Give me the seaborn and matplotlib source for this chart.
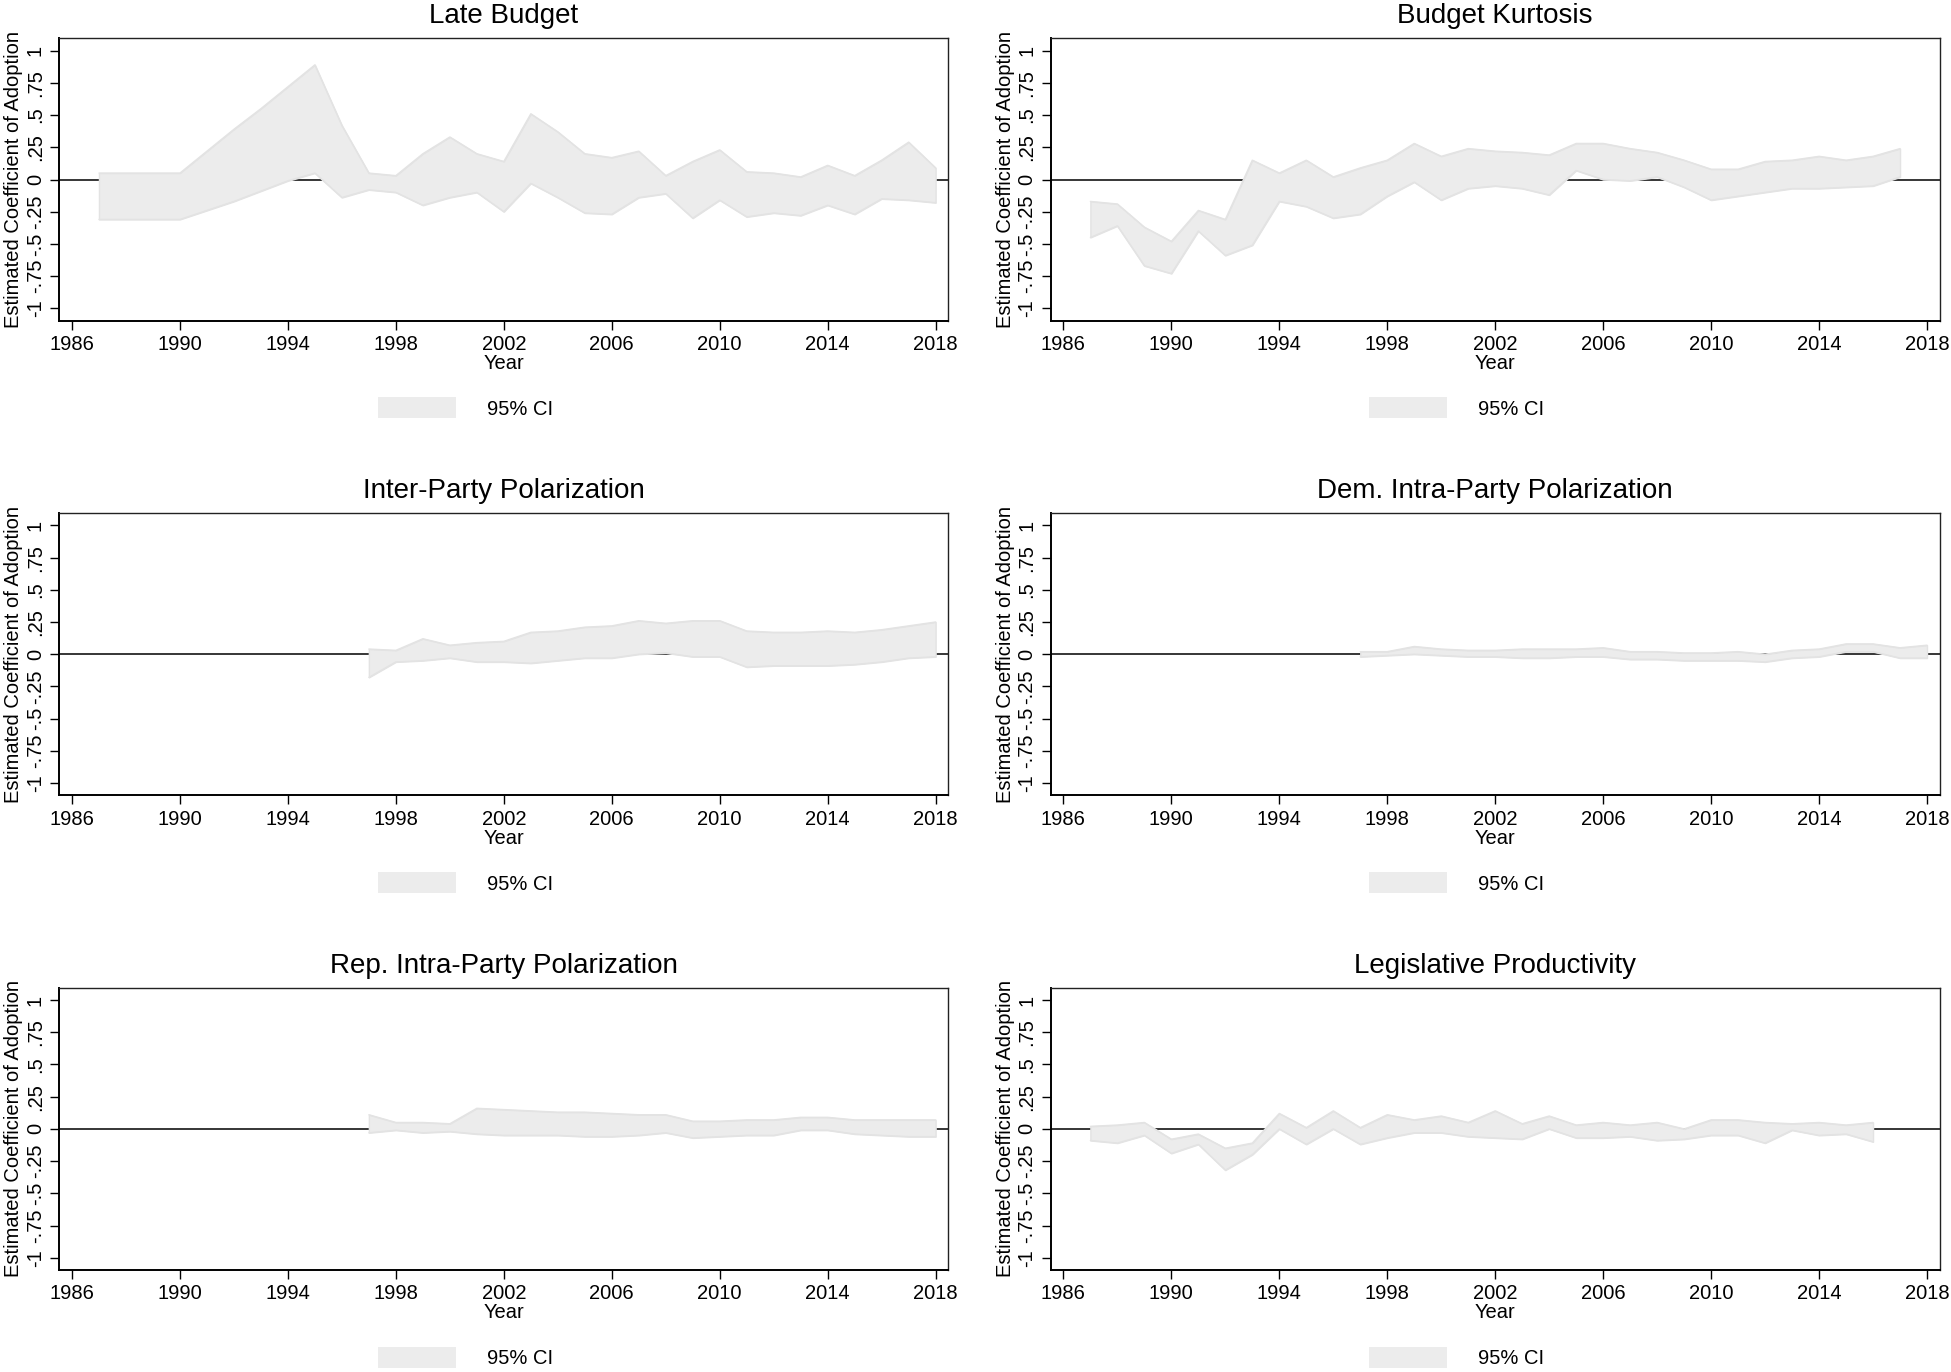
import numpy as np
import matplotlib
matplotlib.use("Agg")
import matplotlib.pyplot as plt
from matplotlib.patches import Rectangle
import seaborn as sns

# values: 95% CI bounds per year
late_years = list(range(1987, 2019))
late_upper = [0.05, 0.05, 0.05, 0.05, 0.22, 0.39, 0.55, 0.72, 0.89, 0.42, 0.05, 0.03,
              0.20, 0.33, 0.20, 0.14, 0.51, 0.37, 0.20, 0.17, 0.22, 0.03, 0.14, 0.23,
              0.06, 0.05, 0.02, 0.11, 0.03, 0.15, 0.29, 0.09]
late_lower = [-0.31, -0.31, -0.31, -0.31, -0.24, -0.17, -0.09, -0.01, 0.05, -0.14, -0.08, -0.10,
              -0.20, -0.14, -0.10, -0.25, -0.03, -0.14, -0.26, -0.27, -0.14, -0.11, -0.30, -0.16,
              -0.29, -0.26, -0.28, -0.20, -0.27, -0.15, -0.16, -0.18]

kurt_years = list(range(1987, 2018))
kurt_upper = [-0.17, -0.19, -0.37, -0.48, -0.24, -0.31, 0.15, 0.05, 0.15, 0.02, 0.09, 0.15,
              0.28, 0.18, 0.24, 0.22, 0.21, 0.19, 0.28, 0.28, 0.24, 0.21, 0.15, 0.08,
              0.08, 0.14, 0.15, 0.18, 0.15, 0.18, 0.24]
kurt_lower = [-0.45, -0.36, -0.67, -0.73, -0.40, -0.59, -0.51, -0.17, -0.21, -0.30, -0.27, -0.13,
              -0.02, -0.16, -0.07, -0.05, -0.07, -0.12, 0.07, 0.00, -0.01, 0.02, -0.06, -0.16,
              -0.13, -0.10, -0.07, -0.07, -0.06, -0.05, 0.02]

inter_years = list(range(1997, 2019))
inter_upper = [0.04, 0.03, 0.12, 0.07, 0.09, 0.10, 0.17, 0.18, 0.21, 0.22, 0.26, 0.24,
               0.26, 0.26, 0.18, 0.17, 0.17, 0.18, 0.17, 0.19, 0.22, 0.25]
inter_lower = [-0.18, -0.06, -0.05, -0.03, -0.06, -0.06, -0.07, -0.05, -0.03, -0.03, 0.00, 0.01,
               -0.02, -0.02, -0.10, -0.09, -0.09, -0.09, -0.08, -0.06, -0.03, -0.02]

dem_years = list(range(1997, 2019))
dem_upper = [0.02, 0.02, 0.06, 0.04, 0.03, 0.03, 0.04, 0.04, 0.04, 0.05, 0.02, 0.02,
             0.01, 0.01, 0.02, 0.00, 0.03, 0.04, 0.08, 0.08, 0.05, 0.07]
dem_lower = [-0.02, -0.01, 0.00, -0.01, -0.02, -0.02, -0.03, -0.03, -0.02, -0.02, -0.04, -0.04,
             -0.05, -0.05, -0.05, -0.06, -0.03, -0.02, 0.02, 0.02, -0.03, -0.03]

rep_years = list(range(1997, 2019))
rep_upper = [0.11, 0.05, 0.05, 0.04, 0.16, 0.15, 0.14, 0.13, 0.13, 0.12, 0.11, 0.11,
             0.06, 0.06, 0.07, 0.07, 0.09, 0.09, 0.07, 0.07, 0.07, 0.07]
rep_lower = [-0.03, -0.01, -0.03, -0.02, -0.04, -0.05, -0.05, -0.05, -0.06, -0.06, -0.05, -0.03,
             -0.07, -0.06, -0.05, -0.05, -0.01, -0.01, -0.04, -0.05, -0.06, -0.06]

leg_years = list(range(1987, 2017))
leg_upper = [0.02, 0.03, 0.05, -0.08, -0.04, -0.15, -0.11, 0.12, 0.01, 0.14, 0.01, 0.11,
             0.07, 0.10, 0.05, 0.14, 0.04, 0.10, 0.03, 0.05, 0.03, 0.05, 0.00, 0.07,
             0.07, 0.05, 0.04, 0.05, 0.03, 0.05]
leg_lower = [-0.09, -0.11, -0.05, -0.19, -0.12, -0.32, -0.20, 0.00, -0.12, 0.00, -0.12, -0.07,
             -0.03, -0.03, -0.06, -0.07, -0.08, 0.00, -0.07, -0.07, -0.06, -0.09, -0.08, -0.05,
             -0.05, -0.11, -0.01, -0.05, -0.04, -0.10]

titles = ["Late Budget", "Budget Kurtosis", "Inter-Party Polarization",
          "Dem. Intra-Party Polarization", "Rep. Intra-Party Polarization",
          "Legislative Productivity"]
panels = [(late_years, late_lower, late_upper), (kurt_years, kurt_lower, kurt_upper),
          (inter_years, inter_lower, inter_upper), (dem_years, dem_lower, dem_upper),
          (rep_years, rep_lower, rep_upper), (leg_years, leg_lower, leg_upper)]

xticks = list(range(1986, 2019, 4))
yticks = [-1, -0.75, -0.5, -0.25, 0, 0.25, 0.5, 0.75, 1]
ytick_labels = ["-1", "-.75", "-.5", "-.25", "0", ".25", ".5", ".75", "1"]

sns.set_theme(style="ticks", rc={"text.color": "black", "axes.labelcolor": "black",
                                 "xtick.color": "black", "ytick.color": "black"})
plt.rcParams['font.family'] = ['Liberation Sans', 'DejaVu Sans']

fill_col = "#ececec"
edge_col = "#e3e3e3"
W, H = 1951, 1372
fig = plt.figure(figsize=(W / 100, H / 100), dpi=100)

col_left = [59.3, 1050.7]
row_top = [38.3, 513.0, 987.7]
aw, ah = 889.0, 282.4

for i, (title, (yrs, lo, up)) in enumerate(zip(titles, panels)):
    r, c = divmod(i, 2)
    ax = fig.add_axes([col_left[c] / W, 1 - (row_top[r] + ah) / H, aw / W, ah / H])
    ax.axhline(0, color="black", lw=1.1, zorder=1)
    ax.fill_between(yrs, lo, up, facecolor=fill_col, edgecolor=edge_col, lw=1.0, zorder=2)
    sns.lineplot(x=yrs, y=lo, color=edge_col, lw=1.0, ax=ax, zorder=2)
    sns.lineplot(x=yrs, y=up, color=edge_col, lw=1.0, ax=ax, zorder=2)

    ax.set_xlim(1985.53, 2018.47)
    ax.set_ylim(-1.096, 1.096)
    ax.set_xticks(xticks)
    ax.set_xticklabels([str(t) for t in xticks], fontsize=14.5)
    ax.set_yticks(yticks)
    ax.set_yticklabels(ytick_labels, fontsize=14.5, rotation=90, va="center")
    ax.tick_params(axis="both", direction="out", length=6.3, width=1.0, colors="black", pad=4)
    ax.set_xlabel("Year", fontsize=14.5, labelpad=0, color="black")
    ax.set_ylabel("Estimated Coefficient of Adoption", fontsize=14.5, labelpad=2, color="black")
    ax.set_title(title, fontsize=20, pad=10.8, color="black")
    for side in ["left", "bottom"]:
        ax.spines[side].set_linewidth(1.4)
        ax.spines[side].set_color("black")
    for side in ["top", "right"]:
        ax.spines[side].set_linewidth(1.0)
        ax.spines[side].set_color("#222222")
    ax.grid(False)

    # legend key below the axis
    y0 = row_top[r]
    x0 = col_left[c]
    fig.add_artist(Rectangle(((x0 + 318.7) / W, 1 - (y0 + 380.0) / H), 77.7 / W, 21.0 / H,
                             transform=fig.transFigure, facecolor=fill_col, edgecolor="none"))
    fig.text((x0 + 427.7) / W, 1 - (y0 + 376.7) / H, "95% CI", fontsize=14.5,
             ha="left", va="baseline", color="black")

fig.savefig("out.png", dpi=100, facecolor="white")
